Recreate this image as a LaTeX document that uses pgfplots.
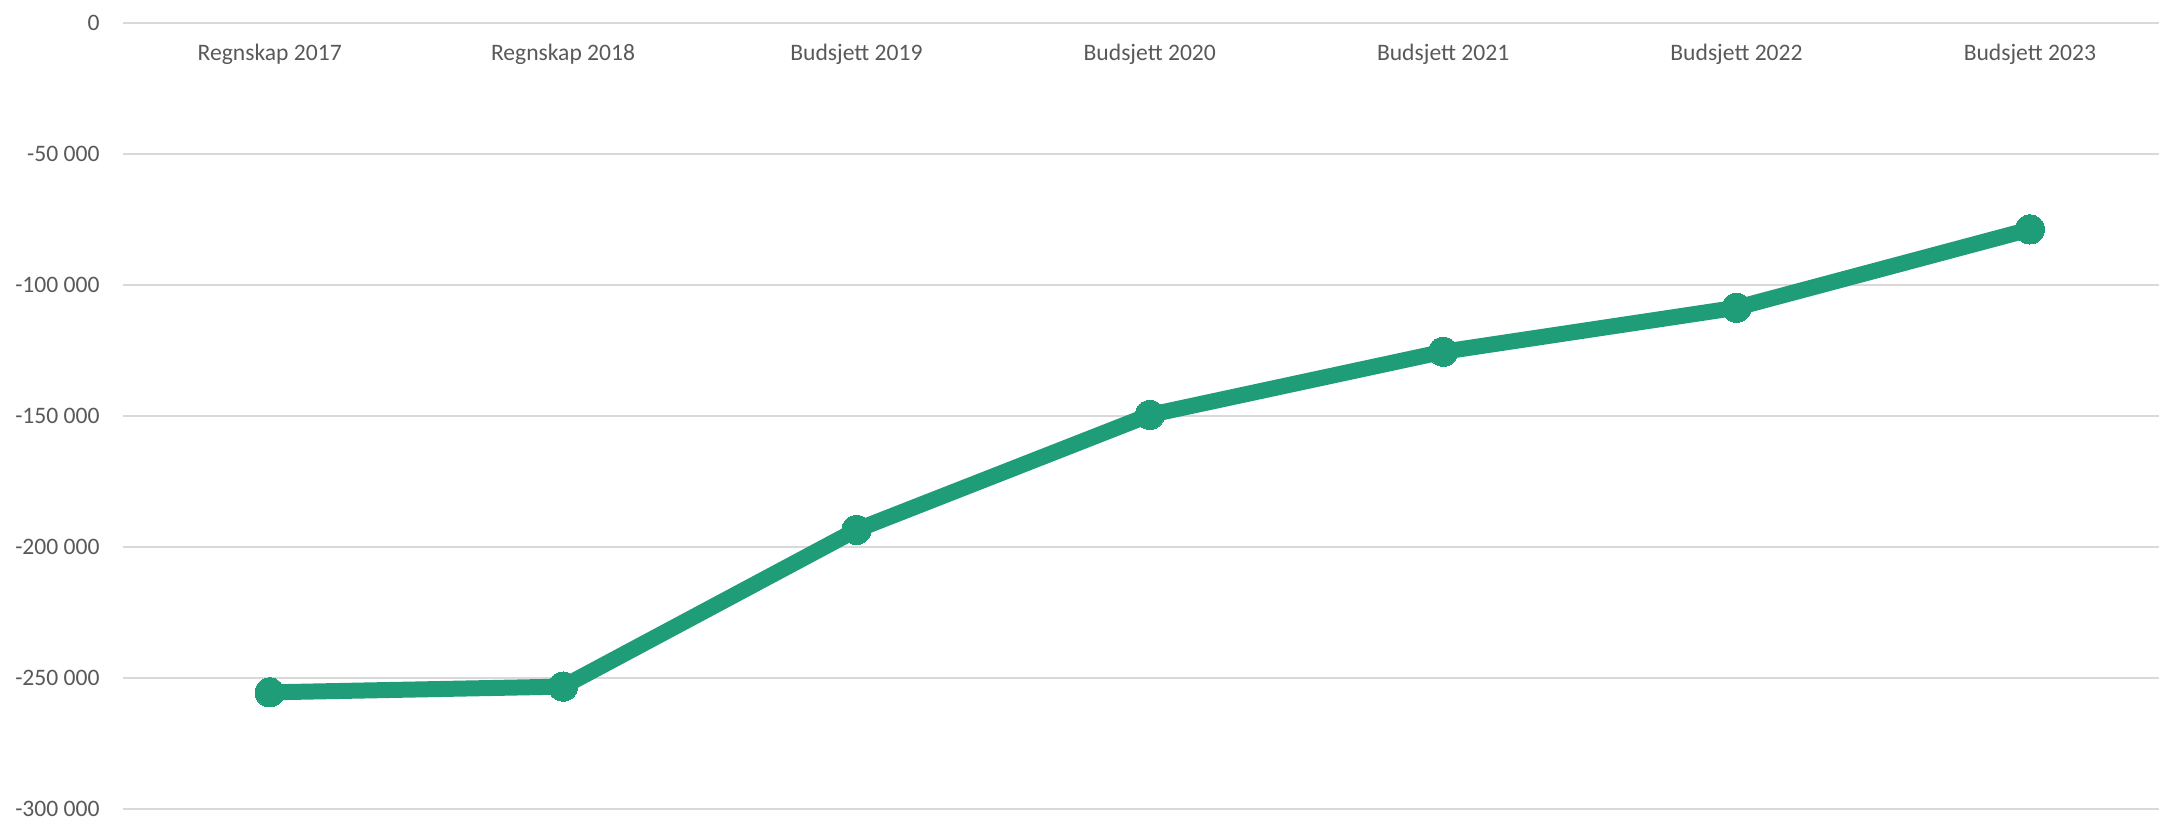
\documentclass[border=0pt]{standalone}
\usepackage{pgfplots}
\pgfplotsset{compat=1.18}
\usepackage{fontspec}
\setmainfont{Carlito}
\definecolor{linegreen}{HTML}{1F9C78}
\definecolor{labelgray}{HTML}{595959}
\definecolor{gridgray}{HTML}{D9D9D9}
\begin{document}
\begin{tikzpicture}
\path[use as bounding box] (0,0) rectangle (1079.5pt,409pt);
\begin{axis}[
  at={(61.5pt,397.65pt)}, anchor=north west,
  scale only axis,
  width=1018pt, height=393pt,
  xmin=-0.5, xmax=6.44,
  ymin=-300000, ymax=0,
  axis line style={draw=none},
  major tick length=0pt,
  ymajorgrids,
  grid style={gridgray, line width=1pt},
  ytick={-300000,-250000,-200000,-150000,-100000,-50000,0},
  yticklabels={-300 000,-250 000,-200 000,-150 000,-100 000,-50 000,0},
  xtick={0,1,2,3,4,5,6},
  xticklabels={Regnskap 2017,Regnskap 2018,Budsjett 2019,Budsjett 2020,Budsjett 2021,Budsjett 2022,Budsjett 2023},
  xticklabel pos=upper,
  xticklabel style={anchor=north, inner sep=0pt, yshift=-10.5pt, font=\fontsize{11.8}{14}\selectfont, text=labelgray},
  yticklabel style={anchor=east, inner sep=0pt, xshift=-11.5pt, font=\fontsize{11.8}{14}\selectfont, text=labelgray},
  clip=false,
]
\addplot[color=linegreen, line width=8pt, mark=*, mark size=7.3pt, mark options={fill=linegreen, draw=linegreen, line width=0pt}]
coordinates {(0,-255600) (1,-253400) (2,-193600) (3,-149700) (4,-125600) (5,-108800) (6,-78900)};
\end{axis}
\end{tikzpicture}
\end{document}
